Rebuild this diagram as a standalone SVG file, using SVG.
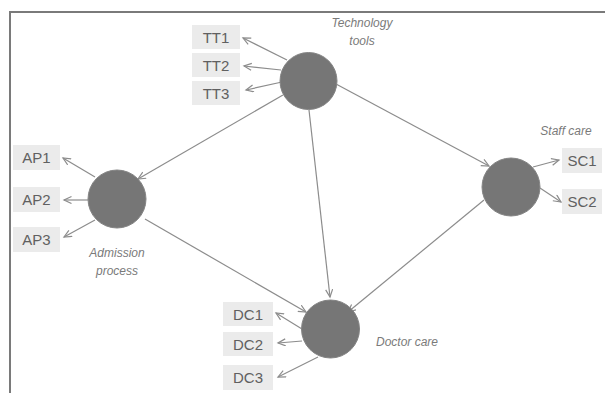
<svg xmlns="http://www.w3.org/2000/svg" width="605" height="393" viewBox="0 0 605 393">
<style>
.frame{fill:none;stroke:#7a7a7a;stroke-width:2}
.lv{fill:#767676;stroke:#848484;stroke-width:1}
.box{fill:#ebebeb}
.bt{font-family:"Liberation Sans",Arial,sans-serif;font-size:15px;fill:#606060;text-anchor:middle}
.lab{font-family:"Liberation Sans",Arial,sans-serif;font-size:12px;font-style:italic;fill:#7a7a7a;text-anchor:middle}
.cn line{stroke:#8c8c8c;stroke-width:1.2;marker-end:url(#ah)}
</style>
<defs>
<marker id="ah" markerUnits="userSpaceOnUse" markerWidth="10" markerHeight="10" refX="8" refY="4" orient="auto">
<path d="M0.5,0.5 L8,4 L0.5,7.5" fill="none" stroke="#8c8c8c" stroke-width="1.2"/>
</marker>
</defs>
<rect width="605" height="393" fill="#ffffff"/>
<path class="frame" d="M10,393 L10,12 L605,12"/>

<g id="connectors" class="cn">
<line x1="283" y1="95" x2="138" y2="179"/>
<line x1="309" y1="110" x2="330" y2="297"/>
<line x1="336" y1="84" x2="489" y2="166"/>
<line x1="145" y1="219" x2="306" y2="312"/>
<line x1="484" y1="200" x2="348" y2="312"/>
<line x1="287" y1="60" x2="243" y2="38"/>
<line x1="281" y1="70" x2="244" y2="66"/>
<line x1="282" y1="82" x2="246" y2="90"/>
<line x1="95" y1="177" x2="63" y2="158"/>
<line x1="88" y1="200" x2="64" y2="200"/>
<line x1="95" y1="220" x2="64" y2="237"/>
<line x1="302" y1="329" x2="276" y2="313"/>
<line x1="302" y1="341" x2="278" y2="343"/>
<line x1="318" y1="357" x2="278" y2="377"/>
<line x1="533" y1="167" x2="559" y2="160"/>
<line x1="540" y1="188" x2="561" y2="202"/>
</g>

<g id="tt">
<circle class="lv" cx="308.5" cy="81" r="28.5"/>
<text class="lab" x="362" y="27">Technology</text>
<text class="lab" x="362" y="45">tools</text>
</g>
<g id="tt1"><rect class="box" x="192" y="25" width="48" height="24"/><text class="bt" x="216" y="42.5">TT1</text></g>
<g id="tt2"><rect class="box" x="192" y="53" width="48" height="24"/><text class="bt" x="216" y="70.5">TT2</text></g>
<g id="tt3"><rect class="box" x="192" y="81" width="48" height="24"/><text class="bt" x="216" y="98.5">TT3</text></g>

<g id="ap">
<circle class="lv" cx="117" cy="199" r="29"/>
<text class="lab" x="117" y="257">Admission</text>
<text class="lab" x="117" y="275">process</text>
</g>
<g id="ap1"><rect class="box" x="13" y="145" width="47" height="25"/><text class="bt" x="36.5" y="163">AP1</text></g>
<g id="ap2"><rect class="box" x="13" y="187" width="47" height="25"/><text class="bt" x="36.5" y="205">AP2</text></g>
<g id="ap3"><rect class="box" x="13" y="227" width="47" height="25"/><text class="bt" x="36.5" y="245">AP3</text></g>

<g id="dc">
<circle class="lv" cx="330.5" cy="329" r="29"/>
<text class="lab" x="407" y="346">Doctor care</text>
</g>
<g id="dc1"><rect class="box" x="223" y="302" width="50" height="24"/><text class="bt" x="248" y="319.5">DC1</text></g>
<g id="dc2"><rect class="box" x="223" y="332" width="50" height="24"/><text class="bt" x="248" y="349.5">DC2</text></g>
<g id="dc3"><rect class="box" x="223" y="365" width="50" height="25"/><text class="bt" x="248" y="383">DC3</text></g>

<g id="sc">
<circle class="lv" cx="511" cy="187" r="29"/>
<text class="lab" x="566" y="135">Staff care</text>
</g>
<g id="sc1"><rect class="box" x="562" y="148" width="40" height="25"/><text class="bt" x="582" y="166">SC1</text></g>
<g id="sc2"><rect class="box" x="562" y="189" width="40" height="25"/><text class="bt" x="582" y="207">SC2</text></g>
</svg>
